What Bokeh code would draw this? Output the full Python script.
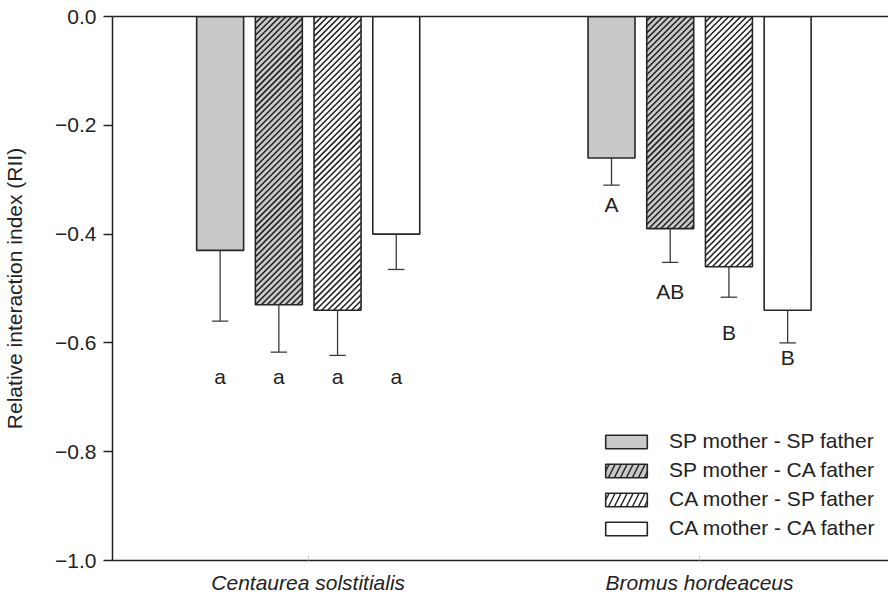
from bokeh.plotting import figure
from bokeh.models import (Range1d, FixedTicker, LinearAxis, Legend, LegendItem,
                          ColumnDataSource)
from bokeh.core.properties import value
from bokeh.embed import file_html
from bokeh.resources import INLINE

# ---------------- data ----------------
species = ["Centaurea solstitialis", "Bromus hordeaceus"]
crosses = ["SP mother - SP father", "SP mother - CA father",
           "CA mother - SP father", "CA mother - CA father"]
rii_centaurea = [-0.43, -0.53, -0.54, -0.40]
rii_bromus = [-0.26, -0.39, -0.46, -0.54]
err_centaurea = [0.13, 0.087, 0.083, 0.065]
err_bromus = [0.05, 0.062, 0.056, 0.06]
letters_centaurea = ["a", "a", "a", "a"]
letters_bromus = ["A", "AB", "B", "B"]
letter_y_centaurea = [-0.662, -0.662, -0.662, -0.662]
letter_y_bromus = [-0.345, -0.505, -0.581, -0.627]
y_ticks = [0.0, -0.2, -0.4, -0.6, -0.8, -1.0]
y_tick_labels = ["0.0", "\u22120.2", "\u22120.4", "\u22120.6", "\u22120.8", "\u22121.0"]
x_ticks = [1, 2]

# ---------------- styles / layout ----------------
FONT = "Liberation Sans"
TXT = "#222222"
W, H = 888, 596
BL, BT, BB = 110, 16, 35
X0, X1 = 0.5, 2.4827
Y0, Y1 = -1.0, 0.0
offsets = [-0.225, -0.075, 0.075, 0.225]
bar_w = 0.12
fills = ["#c8c9cb", "#c8c9cb", "#ffffff", "#ffffff"]
hatched = [False, True, True, False]
HATCH_STEP = 6.0   # px, horizontal period of 45 degree hatch lines
HATCH_COLOR = "#1e1e1e"
OUTLINE = "#262626"

sx = (W - BL) / (X1 - X0)          # px per x unit
sy = (H - BT - BB) / (Y1 - Y0)     # px per y unit

p = figure(width=W, height=H, output_backend="svg", toolbar_location=None,
           x_range=Range1d(X0, X1), y_range=Range1d(Y0, Y1),
           min_border_left=BL, min_border_right=0, min_border_top=BT,
           min_border_bottom=BB)
p.grid.visible = False
p.outline_line_color = None
p.background_fill_color = "white"
p.border_fill_color = "white"

rii_by_cross = list(zip(rii_centaurea, rii_bromus))
err_by_cross = list(zip(err_centaurea, err_bromus))


def hatch_segments(xc, top, bottom):
    """45-degree '/' lines clipped to a bar, computed in screen px then mapped back."""
    L = (xc - bar_w / 2 - X0) * sx
    R = (xc + bar_w / 2 - X0) * sx
    T = (Y1 - max(top, bottom)) * sy
    B = (Y1 - min(top, bottom)) * sy
    xs0, ys0, xs1, ys1 = [], [], [], []
    n = int(L // HATCH_STEP) - 1
    while n * HATCH_STEP <= R + B:
        k = n * HATCH_STEP
        lo = max(T, k - R)
        hi = min(B, k - L)
        if hi - lo > 0.3:
            xs0.append(X0 + (k - lo) / sx)
            ys0.append(Y1 - lo / sy)
            xs1.append(X0 + (k - hi) / sx)
            ys1.append(Y1 - hi / sy)
        n += 1
    return xs0, ys0, xs1, ys1


items = []
for i, name in enumerate(crosses):
    xs = [x_ticks[0] + offsets[i], x_ticks[1] + offsets[i]]
    tops = list(rii_by_cross[i])
    src = ColumnDataSource(dict(x=xs, top=tops))
    # fill
    p.vbar(x="x", top="top", bottom=0, width=bar_w, source=src,
           fill_color=fills[i], line_color=None)
    # hatch
    if hatched[i]:
        hx0, hy0, hx1, hy1 = [], [], [], []
        for xc, t in zip(xs, tops):
            a, b, c, d = hatch_segments(xc, t, 0.0)
            hx0 += a; hy0 += b; hx1 += c; hy1 += d
        p.segment(x0=hx0, y0=hy0, x1=hx1, y1=hy1, line_color=HATCH_COLOR,
                  line_width=1.5)
    # outline
    p.vbar(x="x", top="top", bottom=0, width=bar_w, source=src,
           fill_color=None, line_color=OUTLINE, line_width=1.6)

    # legend proxy (hidden renderer carrying the legend look)
    kw = dict(fill_color=fills[i], line_color=OUTLINE, line_width=1.6)
    if hatched[i]:
        kw.update(hatch_pattern="/", hatch_color=HATCH_COLOR, hatch_weight=1.4,
                  hatch_scale=12)
    proxy = p.vbar(x="x", top="top", bottom=0, width=bar_w, source=src, **kw)
    proxy.visible = False
    items.append(LegendItem(label=name, renderers=[proxy]))

    # lower error bars
    lows = [t - e for t, e in zip(tops, err_by_cross[i])]
    esrc = ColumnDataSource(dict(x=xs, top=tops, low=lows,
                                 x0=[x - 0.021 for x in xs], x1=[x + 0.021 for x in xs]))
    p.segment(x0="x", y0="top", x1="x", y1="low", source=esrc,
              line_color="#3a3a3a", line_width=1.3)
    p.segment(x0="x0", y0="low", x1="x1", y1="low", source=esrc,
              line_color="#3a3a3a", line_width=1.3)

# significance letters
lx = [x_ticks[0] + o for o in offsets] + [x_ticks[1] + o for o in offsets]
lsrc = ColumnDataSource(dict(x=lx, y=letter_y_centaurea + letter_y_bromus,
                             t=letters_centaurea + letters_bromus))
p.text(x="x", y="y", text="t", source=lsrc, text_align="center",
       text_baseline="middle", text_font=value(FONT), text_font_size="21px",
       text_color=TXT)

# axes
p.yaxis.ticker = FixedTicker(ticks=y_ticks)
p.yaxis.major_label_overrides = dict(zip(y_ticks, y_tick_labels))
p.yaxis.axis_label = "Relative interaction index (RII)"
p.yaxis.axis_label_text_font = FONT
p.yaxis.axis_label_text_font_style = "normal"
p.yaxis.axis_label_text_font_size = "21px"
p.yaxis.axis_label_text_color = TXT
p.yaxis.axis_label_standoff = 26
p.yaxis.major_label_text_font = FONT
p.yaxis.major_label_text_font_size = "21px"
p.yaxis.major_label_text_color = TXT
p.yaxis.major_label_standoff = 7
p.yaxis.major_tick_out = 9
p.yaxis.major_tick_in = 0
p.yaxis.minor_tick_line_color = None
p.yaxis.axis_line_color = "#222222"
p.yaxis.axis_line_width = 1.5
p.yaxis.major_tick_line_color = "#222222"
p.yaxis.major_tick_line_width = 1.3

p.xaxis.ticker = FixedTicker(ticks=x_ticks)
p.xaxis.major_label_overrides = dict(zip(x_ticks, species))
p.xaxis.major_label_text_font = FONT
p.xaxis.major_label_text_font_style = "italic"
p.xaxis.major_label_text_font_size = "21px"
p.xaxis.major_label_text_color = TXT
p.xaxis.major_label_standoff = 10
p.xaxis.major_tick_out = 0
p.xaxis.major_tick_in = 5
p.xaxis.major_tick_line_color = "#c8c8c8"
p.xaxis.minor_tick_line_color = None
p.xaxis.axis_line_color = "#222222"
p.xaxis.axis_line_width = 1.5

top_axis = LinearAxis(ticker=FixedTicker(ticks=[]), axis_line_color="#222222",
                      axis_line_width=1.5, major_tick_line_color=None,
                      minor_tick_line_color=None, major_label_text_font_size="0px")
p.add_layout(top_axis, "above")

legend = Legend(items=items, location=(488, 20), border_line_color=None,
                background_fill_alpha=0, padding=0, margin=0, spacing=5,
                glyph_width=52, glyph_height=17, label_standoff=17,
                label_text_font=FONT, label_text_font_size="21px",
                label_text_color=TXT, inactive_fill_alpha=0.0,
                click_policy="none")
p.add_layout(legend)

open("out.html", "w").write(file_html(p, INLINE))
